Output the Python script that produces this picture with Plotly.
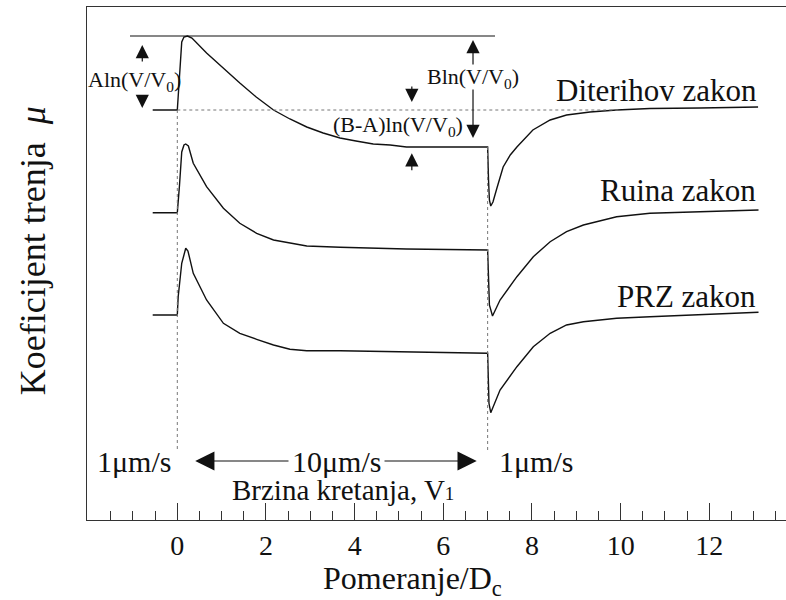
import plotly.graph_objects as go

# ---------------- data ----------------
dit_x = [-0.555, 0.0, 0.10, 0.15, 0.23, 0.33, 0.66, 1.03, 1.41, 1.78, 2.17, 2.54, 2.92, 3.29,
         3.67, 4.03, 4.42, 4.80, 5.17, 5.93, 7.00, 7.02, 7.04, 7.07, 7.12, 7.21, 7.35, 7.51,
         7.66, 8.02, 8.41, 8.78, 9.31, 9.91, 10.66, 11.79, 13.10]
dit_y = [4.10, 4.10, 4.78, 4.83, 4.84, 4.82, 4.67, 4.52, 4.37, 4.23, 4.10, 4.01, 3.93, 3.87,
         3.82, 3.79, 3.76, 3.75, 3.73, 3.73, 3.73, 3.40, 3.20, 3.14, 3.18, 3.32, 3.53, 3.65,
         3.73, 3.90, 4.00, 4.05, 4.08, 4.10, 4.115, 4.12, 4.13]

rui_x = [-0.555, 0.0, 0.05, 0.10, 0.15, 0.19, 0.25, 0.36, 0.66, 1.04, 1.41, 1.79, 2.17, 2.92,
         3.67, 5.17, 7.00, 7.03, 7.04, 7.11, 7.28, 7.66, 8.03, 8.41, 8.78, 9.16, 9.91, 10.66, 13.11]
rui_y = [3.073, 3.073, 3.35, 3.68, 3.75, 3.76, 3.74, 3.567, 3.333, 3.117, 2.967, 2.867, 2.80, 2.74,
         2.727, 2.71, 2.70, 2.30, 2.15, 2.04, 2.20, 2.433, 2.633, 2.783, 2.883, 2.95, 3.033, 3.067, 3.10]

prz_x = [-0.555, 0.0, 0.02, 0.10, 0.19, 0.24, 0.36, 0.66, 1.04, 1.41, 1.79, 2.17, 2.54, 2.92,
         3.67, 5.17, 7.00, 7.03, 7.07, 7.28, 7.66, 8.03, 8.41, 8.78, 9.16, 9.91, 10.66, 13.11]
prz_y = [2.05, 2.05, 2.233, 2.567, 2.717, 2.69, 2.467, 2.20, 1.967, 1.867, 1.807, 1.75, 1.707, 1.693,
         1.693, 1.683, 1.667, 1.167, 1.073, 1.30, 1.533, 1.733, 1.867, 1.95, 1.983, 2.017, 2.033, 2.077]

curve_labels = ["Diterihov zakon", "Ruina zakon", "PRZ zakon"]
label_x = [13.12, 13.10, 13.09]
label_y = [4.30, 3.30, 2.233]

major_ticks = [0, 2, 4, 6, 8, 10, 12]
minor_ticks = [-1.5, -1.0, -0.5, 0.5, 1.0, 1.5, 2.5, 3.0, 3.5, 4.5, 5.0, 5.5, 6.5, 7.0, 7.5,
               8.5, 9.0, 9.5, 10.5, 11.0, 11.5, 12.5, 13.0, 13.5]

# reference levels
peak_level = 4.84
base_level = 4.10
steady_level = 3.73
peak_line_x = [-1.067, 7.167]
base_line_x = [0.0, 10.0]
step_x = [0.0, 7.0]
step_low_y = 0.68
speed_labels = ["1\u03bcm/s", "10\u03bcm/s", "1\u03bcm/s"]
speed_x = [-0.98, 3.59, 8.10]
speed_y = 0.59

XR = [-2.037, 13.73]
YR = [0.0, 5.13]

FONT = "Liberation Serif, Times New Roman, serif"
INK = "#111111"

fig = go.Figure()
for xs, ys in [(dit_x, dit_y), (rui_x, rui_y), (prz_x, prz_y)]:
    fig.add_trace(go.Scatter(x=xs, y=ys, mode="lines",
                             line=dict(color=INK, width=1.4), showlegend=False,
                             hoverinfo="skip"))

# helper lines
fig.add_trace(go.Scatter(x=peak_line_x, y=[peak_level, peak_level], mode="lines",
                         line=dict(color=INK, width=1.2), showlegend=False, hoverinfo="skip"))
fig.add_trace(go.Scatter(x=base_line_x, y=[base_level, base_level], mode="lines",
                         line=dict(color="#777777", width=1, dash="dot"), showlegend=False,
                         hoverinfo="skip"))
fig.add_trace(go.Scatter(x=[step_x[0], step_x[0]], y=[base_level, step_low_y], mode="lines",
                         line=dict(color="#777777", width=1, dash="dot"), showlegend=False,
                         hoverinfo="skip"))
fig.add_trace(go.Scatter(x=[step_x[1], step_x[1]], y=[steady_level, step_low_y], mode="lines",
                         line=dict(color="#777777", width=1, dash="dot"), showlegend=False,
                         hoverinfo="skip"))

ann = []
for t, x, y in zip(curve_labels, label_x, label_y):
    ann.append(dict(x=x, y=y, xref="x", yref="y", text=t, showarrow=False,
                    xanchor="right", yanchor="middle", font=dict(family=FONT, size=31, color=INK)))

small = dict(family=FONT, size=22, color=INK)
ann.append(dict(x=-0.965, y=4.39, text="Aln(V/V<sub>0</sub>)", showarrow=False, font=small))
ann.append(dict(x=6.68, y=4.423, text="Bln(V/V<sub>0</sub>)", showarrow=False, font=small))
ann.append(dict(x=4.988, y=3.94, text="(B-A)ln(V/V<sub>0</sub>)", showarrow=False, font=small))

def arrow(x, y_tip, y_tail, size=2.2):
    return dict(x=x, y=y_tip, ax=x, ay=y_tail, xref="x", yref="y", axref="x", ayref="y",
                text="", showarrow=True, arrowhead=2, arrowsize=size, arrowwidth=1.2,
                arrowcolor=INK, standoff=0, startstandoff=0)

ann += [arrow(-0.79, 4.75, 4.57), arrow(-0.79, 4.12, 4.25),
        arrow(6.67, 4.80, 4.54), arrow(6.67, 3.82, 4.32),
        arrow(5.29, 4.18, 4.35), arrow(5.29, 3.667, 3.483)]

big = dict(family=FONT, size=30, color=INK)
for t, x in zip(speed_labels, speed_x):
    ann.append(dict(x=x, y=speed_y, text=t, showarrow=False, font=big))
ann.append(dict(x=0.404, y=speed_y, ax=2.542, ay=speed_y, xref="x", yref="y", axref="x", ayref="y",
                text="", showarrow=True, arrowhead=2, arrowsize=3.2, arrowwidth=1.2,
                arrowcolor=INK, standoff=0, startstandoff=0))
ann.append(dict(x=6.754, y=speed_y, ax=4.64, ay=speed_y, xref="x", yref="y", axref="x", ayref="y",
                text="", showarrow=True, arrowhead=2, arrowsize=3.2, arrowwidth=1.2,
                arrowcolor=INK, standoff=0, startstandoff=0))
ann.append(dict(x=3.727, y=0.30,
                text="Brzina kretanja, V<span style='font-size:19px'>1</span>",
                showarrow=False, font=dict(family=FONT, size=29, color=INK)))

# axis titles
ann.append(dict(x=0.466, y=-0.117, xref="paper", yref="paper", text="Pomeranje/D<sub>c</sub>",
                xanchor="center", yanchor="middle",
                showarrow=False, font=dict(family=FONT, size=32, color=INK)))
ann.append(dict(x=-0.0773, y=0.526, xref="paper", yref="paper",
                xanchor="center", yanchor="middle",
                text="Koeficijent trenja  <i>\u03bc</i>", textangle=-90,
                showarrow=False, font=dict(family=FONT, size=36, color=INK)))

fig.update_layout(
    width=786, height=600,
    margin=dict(l=87, r=0, t=7, b=80),
    paper_bgcolor="white", plot_bgcolor="white",
    showlegend=False,
    annotations=ann,
    xaxis=dict(range=XR, showgrid=False, zeroline=False, showline=True, mirror=True,
               linecolor="#333333", linewidth=1.3,
               tickmode="array", tickvals=major_ticks, ticktext=[str(v) for v in major_ticks],
               ticks="inside", ticklen=17, tickwidth=1.2, tickcolor="#333333",
               ticklabelstandoff=0,
               tickfont=dict(family=FONT, size=28, color=INK),
               minor=dict(tickmode="array", tickvals=minor_ticks, ticks="inside", ticklen=9,
                          tickwidth=1.2, tickcolor="#333333")),
    yaxis=dict(range=YR, showgrid=False, zeroline=False, showline=True, mirror=False,
               linecolor="#333333", linewidth=1.3, showticklabels=False, ticks=""),
)

fig.write_html("out.html", config={"displayModeBar": False},
               post_script="document.body.style.margin='0';document.body.style.overflow='hidden';")
